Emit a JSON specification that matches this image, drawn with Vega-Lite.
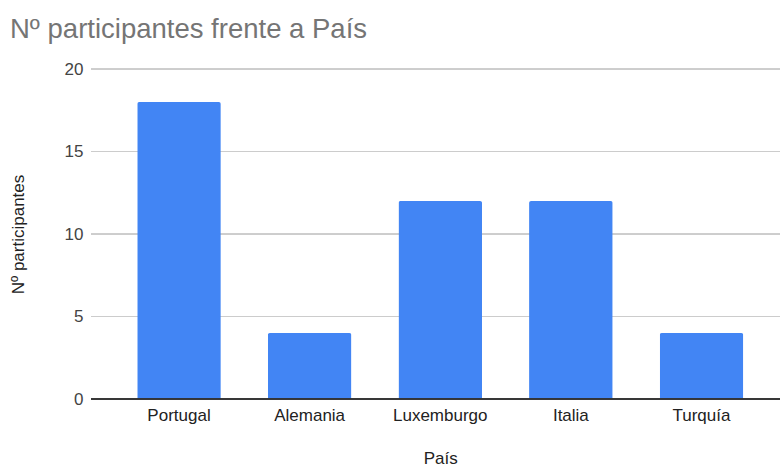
{
  "$schema": "https://vega.github.io/schema/vega-lite/v6.json",
  "autosize": {"type": "none"},
  "padding": {"top": 69, "left": 91, "right": 0, "bottom": 67},
  "width": 689,
  "height": 330,
  "background": "#ffffff",
  "config": {
    "font": "Liberation Sans",
    "view": {"stroke": null}
  },
  "title": {
    "text": "Nº participantes frente a País",
    "anchor": "start",
    "frame": "group",
    "dx": -81,
    "offset": 17,
    "fontSize": 27.5,
    "fontWeight": "normal",
    "color": "#757575",
    "font": "Liberation Sans"
  },
  "data": {
    "values": [
      {"pais": "Portugal", "n": 18},
      {"pais": "Alemania", "n": 4},
      {"pais": "Luxemburgo", "n": 12},
      {"pais": "Italia", "n": 12},
      {"pais": "Turquía", "n": 4}
    ]
  },
  "layer": [
    {"mark": {"type": "rule", "color": "#cccccc", "strokeWidth": 1}, "encoding": {"y": {"datum": 5, "type": "quantitative"}}},
    {"mark": {"type": "rule", "color": "#cccccc", "strokeWidth": 1}, "encoding": {"y": {"datum": 10, "type": "quantitative"}}},
    {"mark": {"type": "rule", "color": "#cccccc", "strokeWidth": 1}, "encoding": {"y": {"datum": 15, "type": "quantitative"}}},
    {"mark": {"type": "rule", "color": "#cccccc", "strokeWidth": 1}, "encoding": {"y": {"datum": 20, "type": "quantitative"}}},
    {
      "mark": {"type": "bar", "color": "#4285F4", "cornerRadiusTopLeft": 2, "cornerRadiusTopRight": 2},
      "encoding": {
        "x": {
          "field": "pais",
          "type": "nominal",
          "sort": null,
          "title": "País",
          "scale": {"range": [22.7, 675.8], "paddingInner": 0.36, "paddingOuter": 0.18},
          "axis": {
            "labelAngle": 0,
            "labelFontSize": 17,
            "labelColor": "#222222",
            "labelPadding": 8,
            "ticks": false,
            "domain": false,
            "grid": false,
            "titleFontSize": 17,
            "titleFontWeight": "normal",
            "titleColor": "#222222",
            "titlePadding": 27
          }
        },
        "y": {
          "field": "n",
          "type": "quantitative",
          "title": "Nº participantes",
          "scale": {"domain": [0, 20]},
          "axis": {
            "values": [0, 5, 10, 15, 20],
            "labelFontSize": 17,
            "labelColor": "#444444",
            "labelPadding": 8,
            "ticks": false,
            "domain": false,
            "grid": false,
            "titleFontSize": 17,
            "titleFontWeight": "normal",
            "titleColor": "#222222",
            "titlePadding": 37
          }
        }
      }
    },
    {"mark": {"type": "rule", "color": "#333333", "strokeWidth": 1}, "encoding": {"y": {"datum": 0, "type": "quantitative"}}}
  ]
}
